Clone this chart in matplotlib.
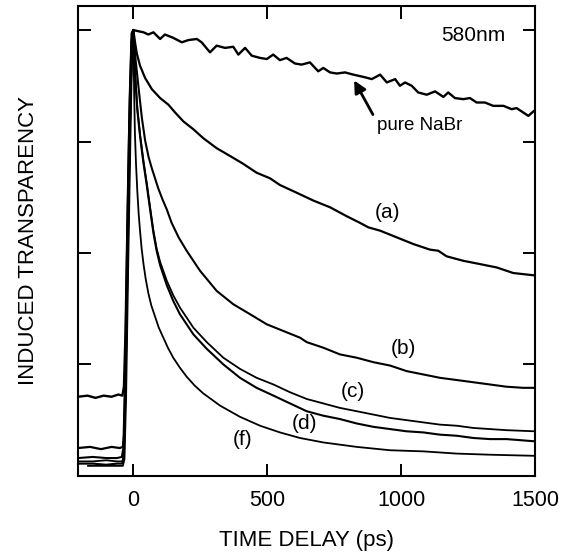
import matplotlib.pyplot as plt

# time delay in ps, induced transparency (arb. units, peak normalised to 4)
pure_t = [-205, -170, -140, -110, -80, -55, -40, -34, -28, -20, -12, -5, 1, 19, 39, 57, 76, 101, 119,
          150, 182, 206, 238, 256, 287, 312, 343, 374, 393, 418, 443, 474, 499, 523, 548, 573, 604, 629,
          660, 691, 710, 735, 760, 791, 822, 859, 891, 922, 947, 978, 996, 1015, 1040, 1064, 1096, 1127,
          1158, 1176, 1201, 1232, 1257, 1282, 1313, 1344, 1382, 1413, 1431, 1450, 1475, 1494, 1500]
pure_y = [0.71, 0.72, 0.70, 0.72, 0.71, 0.73, 0.72, 0.80, 1.3, 2.4, 3.4, 3.97, 4.0, 3.99, 3.98, 3.96,
          3.98, 3.92, 3.96, 3.93, 3.89, 3.91, 3.92, 3.89, 3.80, 3.86, 3.84, 3.85, 3.78, 3.84, 3.77, 3.75,
          3.74, 3.78, 3.73, 3.75, 3.70, 3.69, 3.71, 3.63, 3.66, 3.62, 3.61, 3.62, 3.60, 3.58, 3.56, 3.60,
          3.53, 3.56, 3.50, 3.53, 3.50, 3.44, 3.42, 3.45, 3.40, 3.44, 3.39, 3.38, 3.39, 3.35, 3.35, 3.32,
          3.32, 3.29, 3.30, 3.27, 3.23, 3.27, 3.28]

a_t = [-205, -160, -120, -80, -50, -38, -32, -26, -18, -10, -3, 1, 8, 14, 26, 45, 70, 101, 132, 157, 188,
       225, 262, 312, 362, 411, 461, 511, 548, 611, 673, 735, 797, 847, 878, 922, 984, 1046, 1108, 1139,
       1170, 1232, 1295, 1357, 1419, 1494, 1500]
a_y = [0.25, 0.26, 0.24, 0.26, 0.25, 0.26, 0.4, 1.2, 2.4, 3.4, 3.95, 4.0, 3.88, 3.79, 3.68, 3.57, 3.47,
       3.39, 3.33, 3.26, 3.18, 3.11, 3.03, 2.94, 2.87, 2.80, 2.72, 2.67, 2.61, 2.54, 2.47, 2.41, 2.33,
       2.27, 2.23, 2.20, 2.14, 2.08, 2.03, 2.02, 1.97, 1.93, 1.90, 1.87, 1.82, 1.80, 1.80]

b_t = [-205, -150, -100, -60, -42, -36, -30, -22, -14, -6, 0, 10, 22, 33, 45, 58, 70, 82, 94, 110, 126,
       144, 170, 200, 250, 312, 374, 437, 499, 561, 623, 648, 710, 772, 835, 897, 959, 1021, 1083, 1145,
       1208, 1270, 1332, 1394, 1456, 1500]
b_y = [0.16, 0.17, 0.16, 0.16, 0.17, 0.25, 0.9, 2.1, 3.2, 3.9, 4.0, 3.72, 3.45, 3.21, 3.01, 2.86, 2.76,
       2.67, 2.58, 2.48, 2.39, 2.27, 2.14, 2.02, 1.84, 1.66, 1.54, 1.45, 1.36, 1.30, 1.24, 1.20, 1.15,
       1.09, 1.06, 1.02, 0.99, 0.94, 0.91, 0.88, 0.86, 0.84, 0.82, 0.80, 0.79, 0.79]

c_t = [-205, -150, -100, -60, -40, -34, -28, -20, -12, -4, 0, 8, 16, 26, 38, 51, 63, 76, 88, 101, 126,
       150, 175, 225, 275, 337, 399, 461, 524, 586, 648, 710, 772, 835, 897, 959, 1021, 1083, 1145, 1208,
       1270, 1332, 1394, 1500]
c_y = [0.13, 0.13, 0.14, 0.13, 0.13, 0.2, 0.8, 2.0, 3.1, 3.9, 4.0, 3.6, 3.30, 3.07, 2.84, 2.63, 2.42,
       2.20, 2.04, 1.92, 1.75, 1.62, 1.51, 1.33, 1.20, 1.06, 0.96, 0.88, 0.82, 0.75, 0.69, 0.65, 0.61,
       0.58, 0.55, 0.52, 0.50, 0.48, 0.46, 0.45, 0.43, 0.42, 0.41, 0.40]

d_t = [-205, -150, -100, -60, -40, -34, -28, -20, -12, -4, 0, 8, 16, 26, 38, 51, 63, 76, 88, 101, 126,
       150, 175, 225, 275, 337, 399, 461, 524, 586, 648, 710, 772, 835, 897, 959, 1021, 1083, 1145, 1208,
       1270, 1332, 1394, 1500]
d_y = [0.11, 0.11, 0.10, 0.11, 0.11, 0.18, 0.8, 2.0, 3.1, 3.9, 4.0, 3.58, 3.28, 3.05, 2.82, 2.61, 2.40,
       2.18, 2.02, 1.89, 1.71, 1.57, 1.45, 1.27, 1.14, 1.00, 0.88, 0.79, 0.72, 0.65, 0.58, 0.54, 0.51,
       0.47, 0.44, 0.42, 0.40, 0.39, 0.37, 0.36, 0.34, 0.33, 0.33, 0.31]

f_t = [-168, -130, -90, -55, -38, -32, -26, -18, -10, -3, 1, 4, 7, 11, 16, 21, 26, 32, 39, 47, 57, 68,
       82, 96, 113, 130, 150, 175, 200, 230, 262, 325, 399, 474, 548, 623, 710, 835, 959, 1083, 1208,
       1332, 1500]
f_y = [0.09, 0.09, 0.09, 0.09, 0.09, 0.15, 0.7, 1.9, 3.0, 3.9, 4.0, 3.45, 3.07, 2.80, 2.55, 2.35, 2.20,
       2.04, 1.90, 1.77, 1.64, 1.53, 1.43, 1.33, 1.24, 1.15, 1.06, 0.97, 0.89, 0.81, 0.74, 0.63, 0.53,
       0.45, 0.39, 0.34, 0.30, 0.26, 0.23, 0.22, 0.20, 0.19, 0.18]

x_ticks = [0, 500, 1000, 1500]
y_ticks = [1, 2, 3, 4]

plt.rcParams['font.family'] = ['Liberation Sans', 'DejaVu Sans']

fig = plt.figure(figsize=(5.62, 5.54), dpi=100)
ax = fig.add_axes([0.139, 0.141, 0.813, 0.848])

ax.plot(pure_t, pure_y, color='black', lw=1.7)
ax.plot(a_t, a_y, color='black', lw=1.6)
ax.plot(b_t, b_y, color='black', lw=1.5)
ax.plot(c_t, c_y, color='black', lw=1.3)
ax.plot(d_t, d_y, color='black', lw=1.5)
ax.plot(f_t, f_y, color='black', lw=1.3)

ax.set_xlim(-205, 1500)
ax.set_ylim(0, 4.215)
ax.set_xticks(x_ticks)
ax.set_xticklabels([str(v) for v in x_ticks], fontsize=15.5)
ax.set_yticks(y_ticks)
ax.set_yticklabels([])
ax.tick_params(direction='in', length=9, width=1.4, top=True, right=True, pad=10)
for s in ax.spines.values():
    s.set_linewidth(1.5)

ax.set_xlabel('TIME DELAY (ps)', fontsize=16, labelpad=14)
ax.set_ylabel('INDUCED TRANSPARENCY', fontsize=16)
ax.yaxis.set_label_coords(-0.085, 0.5)

ax.text(1270, 3.95, '580nm', fontsize=15, ha='center', va='center')
ax.text(1070, 3.14, 'pure NaBr', fontsize=13.5, ha='center', va='center')
ax.annotate('', xy=(820, 3.57), xytext=(900, 3.22),
            arrowprops=dict(arrowstyle='-|>', color='black', lw=2, mutation_scale=18))
ax.text(950, 2.36, '(a)', fontsize=15, ha='center', va='center')
ax.text(1010, 1.14, '(b)', fontsize=15, ha='center', va='center')
ax.text(820, 0.76, '(c)', fontsize=15, ha='center', va='center')
ax.text(640, 0.47, '(d)', fontsize=15, ha='center', va='center')
ax.text(410, 0.33, '(f)', fontsize=15, ha='center', va='center')

fig.savefig('out.png', dpi=100)
